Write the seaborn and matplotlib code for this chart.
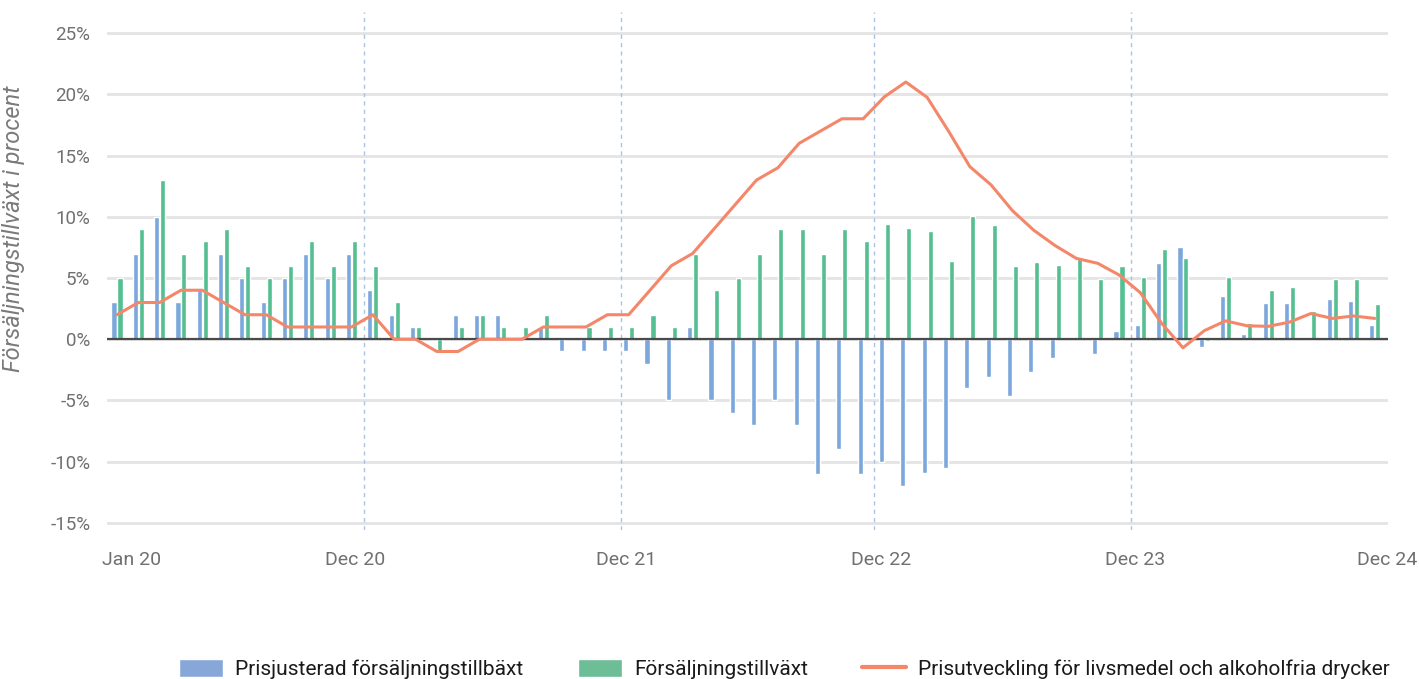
import numpy as np
import pandas as pd
import matplotlib
matplotlib.use("Agg")
import matplotlib.pyplot as plt
from matplotlib.patches import Patch
from matplotlib.lines import Line2D
import seaborn as sns

sns.set_theme(style="white")
plt.rcParams['font.family'] = ['Roboto', 'DejaVu Sans']

# monthly values Jan 2020 - Dec 2024 (percent)
months = pd.date_range('2020-01-01', '2024-12-01', freq='MS').strftime('%Y-%m').tolist()

prisjusterad = [3, 7, 10, 3, 4, 7, 5, 3, 5, 7, 5, 7,
                4, 2, 1, 0, 2, 2, 2, 0, 1, -1, -1, -1,
                -1, -2, -5, 1, -5, -6, -7, -5, -7, -11, -9, -11,
                -10, -12, -10.9, -10.5, -4.0, -3.1, -4.6, -2.7, -1.5, 0.1, -1.2, 0.7,
                1.2, 6.2, 7.55, -0.66, 3.55, 0.4, 2.95, 2.95, 0.2, 3.3, 3.1, 1.2]

forsaljning = [5, 9, 13, 7, 8, 9, 6, 5, 6, 8, 6, 8,
               6, 3, 1, -1, 1, 2, 1, 1, 2, 0, 1, 1,
               1, 2, 1, 7, 4, 5, 7, 9, 9, 7, 9, 8,
               9.4, 9.1, 8.8, 6.4, 10.1, 9.3, 6.0, 6.3, 6.1, 6.7, 4.9, 6.0,
               5.1, 7.4, 6.6, -0.15, 5.1, 1.3, 4.0, 4.3, 2.3, 4.9, 4.9, 2.9]

prisutveckling = [2, 3, 3, 4, 4, 3, 2, 2, 1, 1, 1, 1,
                  2, 0, 0, -1, -1, 0, 0, 0, 1, 1, 1, 2,
                  2, 4, 6, 7, 9, 11, 13, 14, 16, 17, 18, 18,
                  19.8, 21.0, 19.75, 17.0, 14.1, 12.6, 10.5, 8.9, 7.65, 6.6, 6.2, 5.25,
                  3.8, 1.3, -0.7, 0.7, 1.5, 1.1, 1.05, 1.4, 2.1, 1.7, 1.9, 1.7]

labels = ['Prisjusterad försäljningstillbäxt', 'Försäljningstillväxt',
          'Prisutveckling för livsmedel och alkoholfria drycker']
tick_labels = ['Jan 20', 'Dec 20', 'Dec 21', 'Dec 22', 'Dec 23', 'Dec 24']
tick_pos = [0.7, 11.16, 23.87, 35.83, 47.75, 59.57]
year_lines = [11.6, 23.64, 35.5, 47.56]

blue, green, orange = '#7ba7db', '#55bf92', '#f4876a'

df = pd.DataFrame({
    'month': months * 2,
    'serie': [labels[0]] * len(months) + [labels[1]] * len(months),
    'value': prisjusterad + forsaljning,
})

fig = plt.figure(figsize=(14.19, 6.79), dpi=100)
ax = fig.add_axes([0.0754, 0.219, 0.9025, 0.763])

for y in range(-15, 26, 5):
    ax.axhline(y, color='#e4e4e4', lw=2, zorder=0)
for x in year_lines:
    ax.axvline(x, color='#a9c3e6', lw=1, ls=(0, (3, 3)), zorder=0)

sns.barplot(data=df, x='month', y='value', hue='serie', order=months,
            hue_order=labels[:2], palette=[blue, green], saturation=1,
            width=0.56, gap=0.15, errorbar=None, legend=False, ax=ax, zorder=2)
ax.axhline(0, color='#4a4a4a', lw=1.6, zorder=3)
sns.lineplot(x=np.arange(len(months)), y=prisutveckling, color=orange, lw=2.2,
             ax=ax, zorder=4)

ax.set_xlim(-0.47, 59.6)
ax.set_ylim(-15.6, 26.7)
ax.set_yticks(range(-15, 26, 5))
ax.set_yticklabels([f'{v}%' for v in range(-15, 26, 5)])
ax.set_xticks(tick_pos)
ax.set_xticklabels(tick_labels)
ax.tick_params(axis='x', colors='#707070', labelsize=14, length=0, pad=15)
ax.tick_params(axis='y', colors='#707070', labelsize=13.5, length=0, pad=12)
ax.set_xlabel('')
ax.set_ylabel('Försäljningstillväxt i procent', fontsize=17, style='italic',
              color='#7a7a7a')
ax.yaxis.set_label_coords(-0.064, 0.583)
sns.despine(ax=ax, left=True, bottom=True)

handles = [Patch(facecolor='#87a7d8'), Patch(facecolor='#6dbd97'),
           Line2D([0], [0], color=orange, lw=3)]
fig.legend(handles, labels, loc='lower center', bbox_to_anchor=(0.553, -0.028),
           ncol=3, frameon=False, fontsize=15, handlelength=2.1, handleheight=1.0,
           columnspacing=2.6, handletextpad=0.6, labelcolor='#1a1a1a')

fig.savefig('out.png', dpi=100)
